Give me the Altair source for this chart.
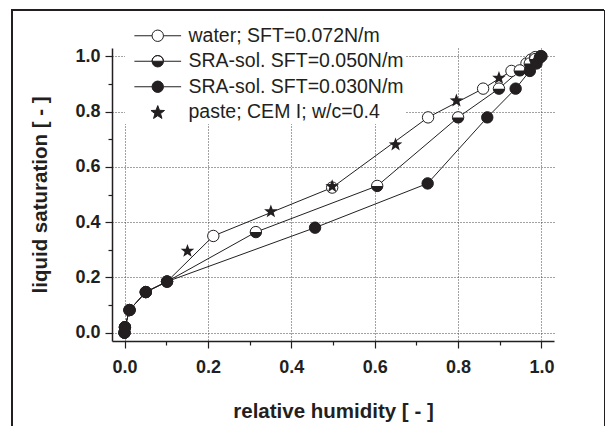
import math
import altair as alt
import pandas as pd

# ---------------- data ----------------
water_rh = [0.0, 0.001, 0.012, 0.051, 0.102, 0.213, 0.498, 0.728, 0.860, 0.928, 0.964, 0.975, 0.985, 0.998]
water_s = [0.0, 0.020, 0.082, 0.147, 0.185, 0.350, 0.525, 0.779, 0.883, 0.947, 0.974, 0.988, 0.997, 1.0]

sra050_rh = [0.0, 0.001, 0.012, 0.051, 0.102, 0.315, 0.606, 0.800, 0.898, 0.948, 0.972, 0.985, 0.998]
sra050_s = [0.0, 0.020, 0.082, 0.147, 0.185, 0.364, 0.531, 0.779, 0.883, 0.949, 0.974, 0.990, 1.0]

sra030_rh = [0.0, 0.001, 0.012, 0.051, 0.102, 0.457, 0.727, 0.870, 0.938, 0.972, 0.988, 0.996, 1.0]
sra030_s = [0.0, 0.020, 0.082, 0.147, 0.185, 0.380, 0.540, 0.779, 0.883, 0.947, 0.974, 0.995, 1.0]

paste_rh = [0.151, 0.351, 0.498, 0.650, 0.796, 0.898]
paste_s = [0.297, 0.440, 0.531, 0.682, 0.841, 0.923]

series_names = [
    "water; SFT=0.072N/m",
    "SRA-sol. SFT=0.050N/m",
    "SRA-sol. SFT=0.030N/m",
    "paste; CEM I; w/c=0.4",
]
tick_values = [0.0, 0.1, 0.2, 0.3, 0.4, 0.5, 0.6, 0.7, 0.8, 0.9, 1.0]

rows = []
for name, xs, ys in zip(series_names,
                        [water_rh, sra050_rh, sra030_rh, paste_rh],
                        [water_s, sra050_s, sra030_s, paste_s]):
    for i, (a, b) in enumerate(zip(xs, ys)):
        rows.append({"series": name, "rh": a, "s": b, "idx": i})
df = pd.DataFrame(rows)

# ---------------- symbol shapes ----------------
FONT = "Liberation Sans"
INK = "#231f20"
SIZE = 130

circle_path = "M1,0A1,1 0 1 1 -1,0A1,1 0 1 1 1,0Z"
half_bottom = "M-1,0A1,1 0 0 0 1,0Z"
half_top_outline = "M-1,0A1,1 0 0 1 1,0A1,1 0 0 0 -1,0"
legend_line = "M-4.1,0H-1M1,0H4.1"

pts = []
for k in range(10):
    ang = math.radians(-90 + 36 * k)
    rr = 1.25 if k % 2 == 0 else 0.52
    pts.append((rr * math.cos(ang), rr * math.sin(ang) + 0.08))
star_path = "M" + "L".join(f"{px:.3f},{py:.3f}" for px, py in pts) + "Z"

legend_shapes = [
    legend_line + circle_path,
    legend_line + half_bottom + half_top_outline,
    legend_line + circle_path,
    star_path,
]
legend_fills = ["white", INK, INK, INK]
legend_strokes = [INK, INK, INK, INK]

dom = [-0.03, 1.03]
test_major = "round(datum.value*10) % 2 == 0"

x_enc = alt.X(
    "rh:Q",
    scale=alt.Scale(domain=dom, nice=False, zero=False),
    axis=alt.Axis(
        title="relative humidity [ - ]",
        values=tick_values,
        labelExpr=f"{test_major} ? format(datum.value, '.1f') : ''",
        tickSize={"condition": {"test": test_major, "value": 7}, "value": 4},
        gridOpacity={"condition": {"test": test_major, "value": 1}, "value": 0},
        labelPadding=10,
        titlePadding=25,
    ),
)
y_enc = alt.Y(
    "s:Q",
    scale=alt.Scale(domain=dom, nice=False, zero=False),
    axis=alt.Axis(
        title="liquid saturation [ - ]",
        values=tick_values,
        labelExpr=f"{test_major} ? format(datum.value, '.1f') : ''",
        tickSize={"condition": {"test": test_major, "value": 7}, "value": 4},
        gridOpacity={"condition": {"test": test_major, "value": 1}, "value": 0},
        labelPadding=5,
        titlePadding=24,
    ),
)

base = alt.Chart(df)

lines = base.transform_filter(
    alt.FieldOneOfPredicate(field="series", oneOf=series_names[:3])
).mark_line(color=INK, strokeWidth=1).encode(
    x=x_enc, y=y_enc, detail="series:N", order="idx:Q"
)

legend_def = alt.Legend(
    title=None,
    orient="none",
    legendX=13,
    legendY=-24,
    fillColor="white",
    padding=2,
    labelFont=FONT,
    labelFontSize=19.5,
    labelColor=INK,
    labelLimit=400,
    symbolSize=SIZE,
    symbolStrokeWidth=1,
    symbolOpacity=1,
    symbolOffset=21,
    labelOffset=21,
    rowPadding=4.5,
)

# zero-size marks: this layer only provides the legend
legend_layer = base.mark_point(size=0, strokeWidth=1).encode(
    x=x_enc,
    y=y_enc,
    fill=alt.Fill("series:N", scale=alt.Scale(domain=series_names, range=legend_fills), legend=legend_def),
    stroke=alt.Stroke("series:N", scale=alt.Scale(domain=series_names, range=legend_strokes), legend=legend_def),
    shape=alt.Shape("series:N", scale=alt.Scale(domain=series_names, range=legend_shapes), legend=legend_def),
)

water_pts = base.transform_filter(alt.datum.series == series_names[0]).mark_point(
    shape=circle_path, filled=True, fill="white", stroke=INK, strokeWidth=1, size=SIZE, opacity=1
).encode(x=x_enc, y=y_enc)

half_bg = base.transform_filter(alt.datum.series == series_names[1]).mark_point(
    shape=circle_path, filled=True, fill="white", stroke=INK, strokeWidth=1, size=SIZE, opacity=1
).encode(x=x_enc, y=y_enc)
half_fg = base.transform_filter(alt.datum.series == series_names[1]).mark_point(
    shape=half_bottom, filled=True, fill=INK, strokeWidth=0, size=SIZE, opacity=1
).encode(x=x_enc, y=y_enc)

filled_pts = base.transform_filter(alt.datum.series == series_names[2]).mark_point(
    shape=circle_path, filled=True, fill=INK, stroke=INK, strokeWidth=1, size=SIZE, opacity=1
).encode(x=x_enc, y=y_enc)

star_pts = base.transform_filter(alt.datum.series == series_names[3]).mark_point(
    shape=star_path, filled=True, fill=INK, strokeWidth=0, size=SIZE, opacity=1
).encode(x=x_enc, y=y_enc)

# outer figure frame (decoration)
one = pd.DataFrame({"k": [0]})
frame_top = alt.Chart(one).mark_rule(color=INK, strokeWidth=2).encode(
    x=alt.value(-100), x2=alt.value(492), y=alt.value(-38))
frame_left = alt.Chart(one).mark_rule(color=INK, strokeWidth=2).encode(
    x=alt.value(-100), y=alt.value(-39), y2=alt.value(390))
frame_right = alt.Chart(one).mark_rule(color=INK, strokeWidth=1).encode(
    x=alt.value(492.5), y=alt.value(-38), y2=alt.value(390))

chart = alt.layer(
    lines, legend_layer, water_pts, half_bg, half_fg, filled_pts, star_pts,
    frame_top, frame_left, frame_right,
).properties(
    width=442,
    height=293,
    autosize=alt.AutoSizeParams(type="none"),
    padding={"left": 112, "top": 48, "right": 51, "bottom": 85},
    background="white",
).configure_view(
    strokeWidth=0
).configure_axis(
    domainColor=INK,
    domainWidth=1.5,
    tickColor=INK,
    tickWidth=1.2,
    grid=True,
    gridColor="#444444",
    gridDash=[1, 2],
    gridWidth=1,
    labelFont=FONT,
    labelFontSize=18,
    labelFontWeight="bold",
    labelColor=INK,
    titleFont=FONT,
    titleFontSize=20.5,
    titleFontWeight="bold",
    titleColor=INK,
)

chart.save("out.html", embed_options={"renderer": "svg", "actions": False})
